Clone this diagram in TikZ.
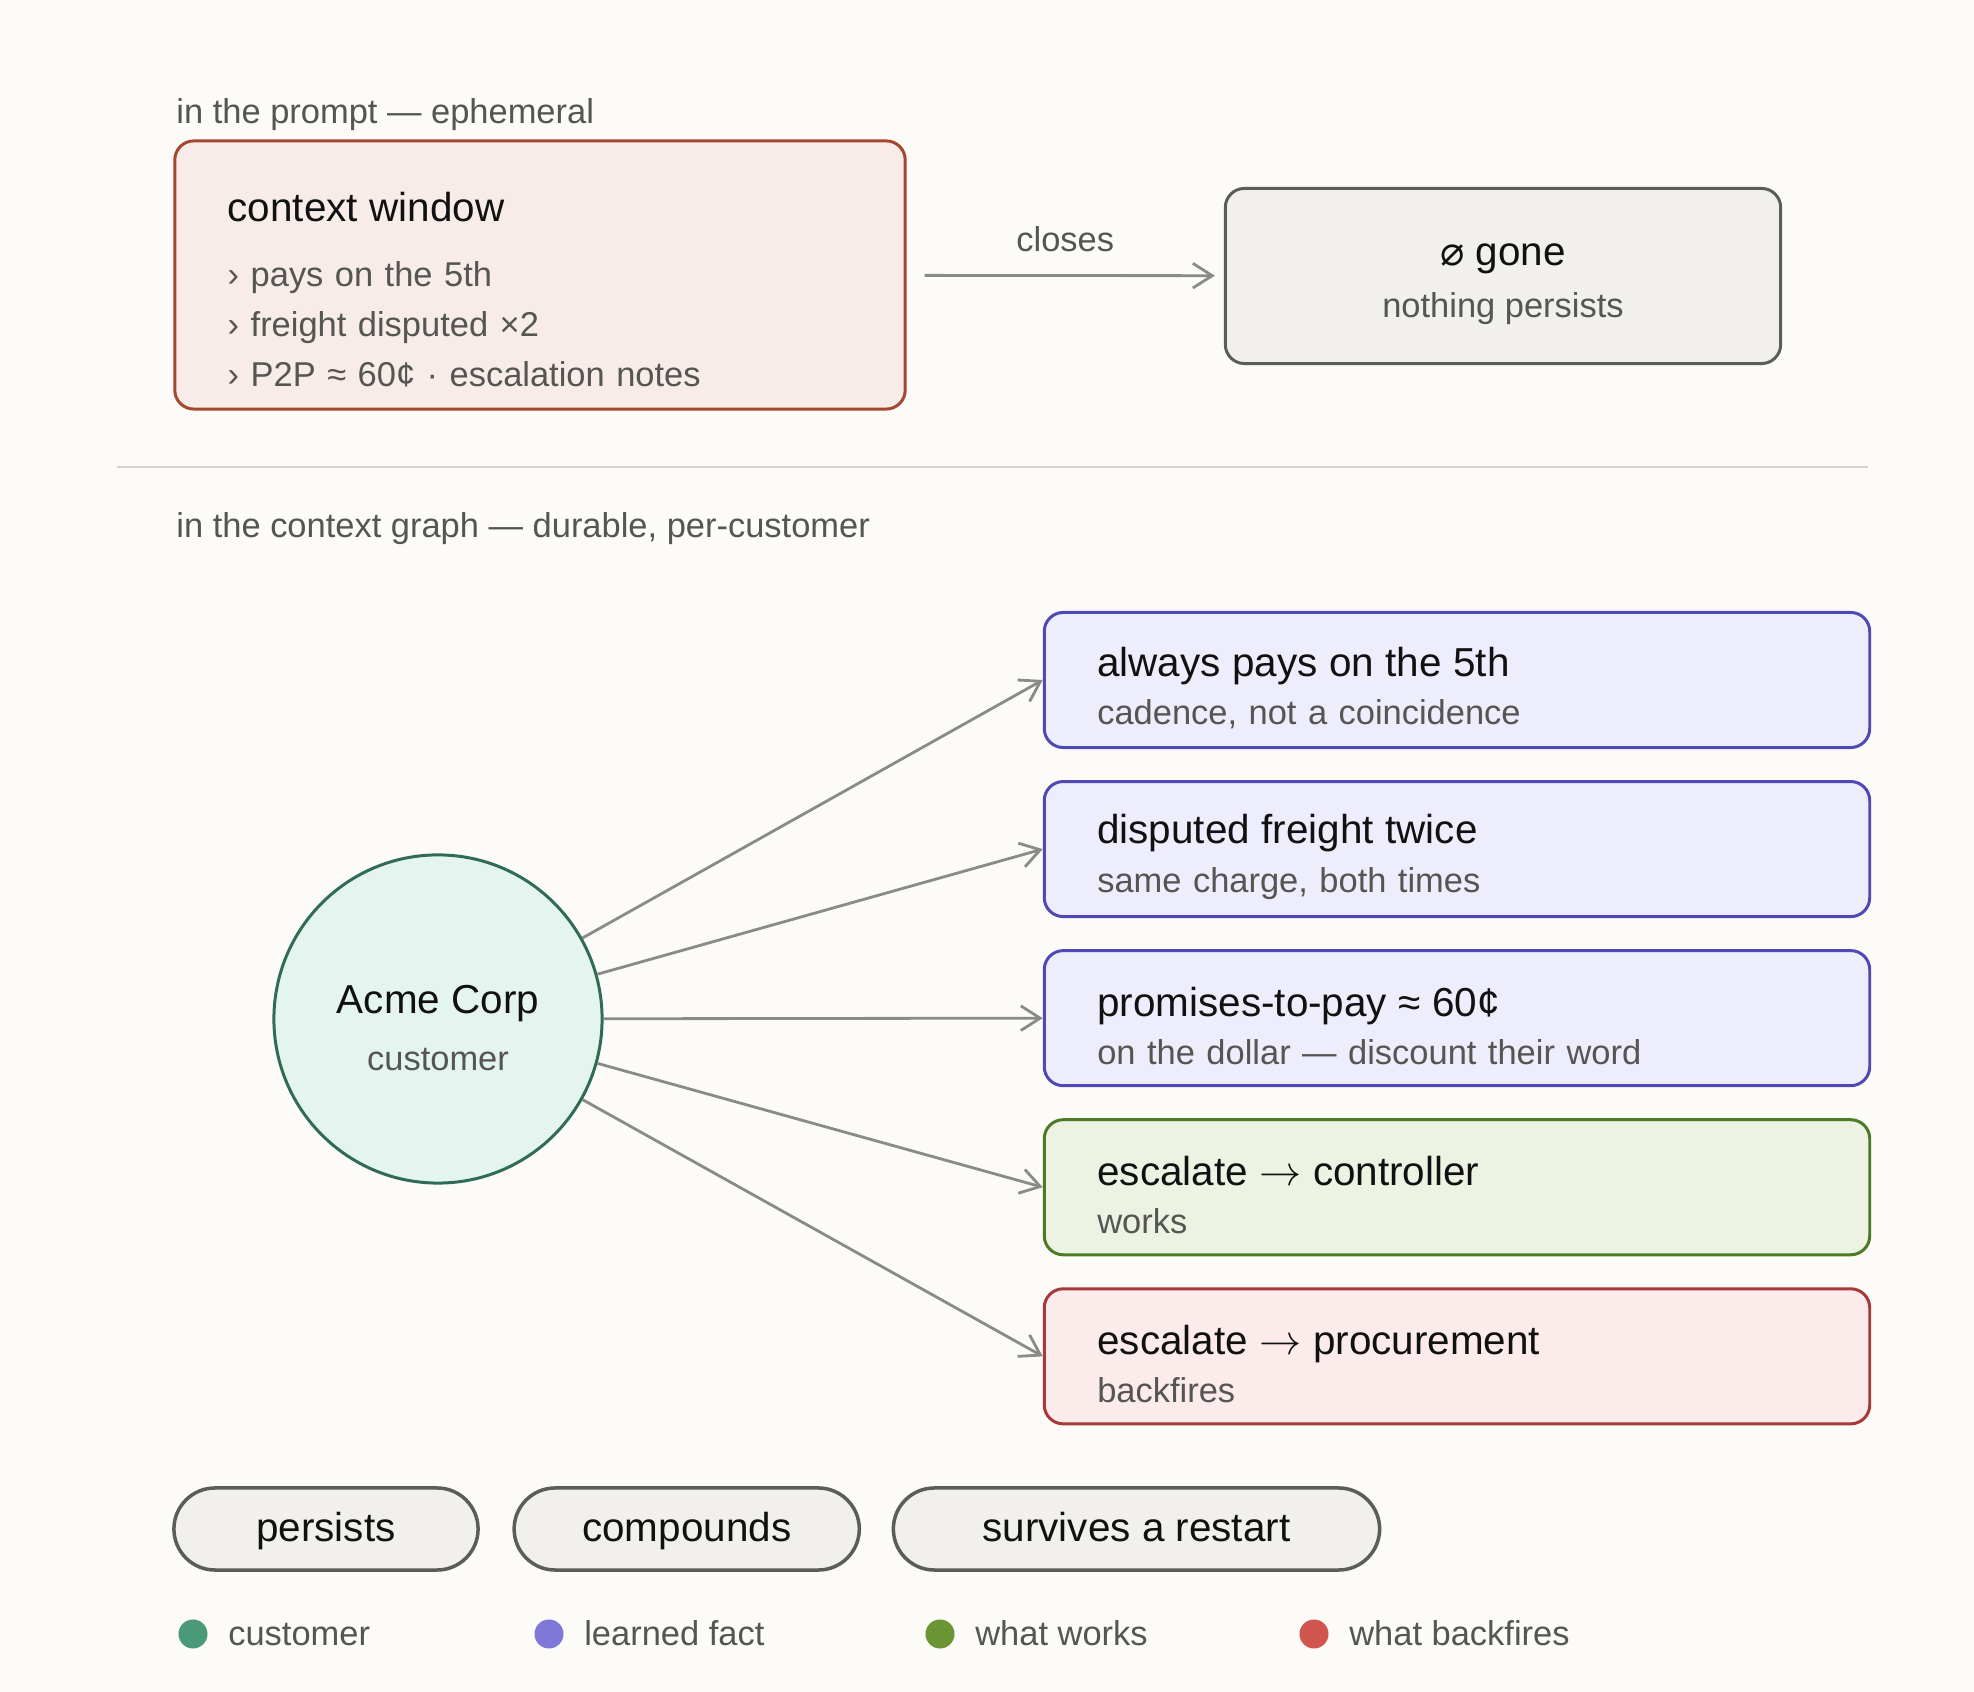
\documentclass[tikz,border=0pt]{standalone}
\usepackage{fontspec}
\setmainfont{Liberation Sans}
\newfontfamily\symfont{DejaVu Sans}
\usepackage{xcolor}
\usetikzlibrary{arrows.meta, positioning}

\definecolor{paper}{HTML}{FCFBF8}
\definecolor{inkgray}{HTML}{555553}
\definecolor{ink}{HTML}{111111}
\definecolor{cwline}{HTML}{A5472F}
\definecolor{cwfill}{HTML}{F7ECE8}
\definecolor{goneline}{HTML}{5C5C5A}
\definecolor{gonefill}{HTML}{F1F0EC}
\definecolor{factline}{HTML}{5048B5}
\definecolor{factfill}{HTML}{EEEDFC}
\definecolor{workline}{HTML}{4C7A26}
\definecolor{workfill}{HTML}{EDF3E2}
\definecolor{failline}{HTML}{A63A3A}
\definecolor{failfill}{HTML}{FBEBEA}
\definecolor{acmeline}{HTML}{2F6B57}
\definecolor{acmefill}{HTML}{E4F4EF}
\definecolor{edgegray}{HTML}{8A8A87}
\definecolor{rulegray}{HTML}{D5D4CF}
\definecolor{dotgreen}{HTML}{4A9A7A}
\definecolor{dotviolet}{HTML}{7F78D8}
\definecolor{dotolive}{HTML}{6A9535}
\definecolor{dotred}{HTML}{D0554F}

\newcommand{\boxhead}{\fontsize{11.5}{13.7}\selectfont\color{ink}}
\newcommand{\boxsub}{\fontsize{9.8}{13.7}\selectfont\color{inkgray}}
\newcommand{\lift}[1]{\rule{0pt}{#1}}

\begin{document}
\begin{tikzpicture}[x=0.01cm, y=-0.01cm, >={Straight Barb[length=5.5pt,width=7pt]}, line width=0.8pt]
    \tikzset{
        heading/.style={anchor=west, inner sep=0, font=\boxsub},
        box/.style={rectangle, rounded corners=0.19cm, line width=0.85pt},
        cwbox/.style={box, draw=cwline, fill=cwfill, minimum width=7.3cm, minimum height=2.68cm},
        gonebox/.style={box, draw=goneline, fill=gonefill, minimum width=5.55cm, minimum height=1.75cm, align=center, font=\boxsub},
        fact/.style={box, minimum width=8.25cm, minimum height=1.35cm, text width=7.19cm, align=left, font=\boxsub},
        pill/.style={rectangle, rounded corners=0.41cm, draw=goneline, fill=gonefill, line width=1pt, minimum height=0.82cm,
                     text height=0.9em, text depth=0.18em, font=\boxhead},
        dot/.style={circle, inner sep=0, minimum size=0.29cm},
        key/.style={anchor=west, inner sep=0, text height=0.85em, text depth=0.19em, font=\boxsub},
        line/.style={draw=edgegray, ->},
        rule/.style={draw=rulegray, line width=0.8pt}
    }

    \fill[paper] (0,0) rectangle (1974,1692);

    % ephemeral part
    \node[heading] (promptlbl) at (175,115) {in the prompt — ephemeral};
    \node[cwbox] (cw) at (540,275) {};
    \node[inner sep=0, text width=6.2cm, align=left, font=\fontsize{9.8}{14.2}\selectfont\color{inkgray},
          below right=0.51cm and 0.53cm of cw.north west] (cwlist)
        {{\boxhead context window}\\[4.3pt]
         › pays on the 5th\\
         › freight disputed ×2\\
         › P2P ≈ 60¢ · escalation notes};
    \node[gonebox] (gone) at (1503,276) {{\boxhead\lift{11pt}{\symfont ⌀} gone}\\[1.1pt] nothing persists};

    \path[line, shorten <=0.18cm, shorten >=0.09cm] (cw) -- node[above=0.22cm, inner sep=0, font=\boxsub] (closes) {closes} (gone);

    \coordinate (ruleL) at (117,467);
    \coordinate (ruleR) at (1868,467);
    \draw[rule] (ruleL) -- (ruleR);

    % durable part
    \node[heading] (graphlbl) at (175,529) {in the context graph — durable, per-customer};
    \node[circle, draw=acmeline, fill=acmefill, line width=0.85pt, minimum size=3.28cm, align=center, font=\boxsub] (acme) at (438,1019)
        {{\boxhead\lift{13pt}Acme Corp}\\[2.5pt] customer};

    \node[fact, draw=factline, fill=factfill] (pays) at (1457,680)
        {{\boxhead\lift{12.8pt}always pays on the 5th}\\ cadence, not a coincidence};
    \node[fact, draw=factline, fill=factfill, below=0.31cm of pays] (freight)
        {{\boxhead\lift{12.8pt}disputed freight twice}\\ same charge, both times};
    \node[fact, draw=factline, fill=factfill, below=0.31cm of freight] (ptp)
        {{\boxhead\lift{12.8pt}promises-to-pay ≈ 60¢}\\ on the dollar — discount their word};
    \node[fact, draw=workline, fill=workfill, below=0.31cm of ptp] (ctrl)
        {{\boxhead\lift{12.8pt}escalate $\rightarrow$ controller}\\ works};
    \node[fact, draw=failline, fill=failfill, below=0.31cm of ctrl] (proc)
        {{\boxhead\lift{12.8pt}escalate $\rightarrow$ procurement}\\ backfires};

    \path [line] (acme) -- (pays.west);
    \path [line] (acme) -- (freight.west);
    \path [line] (acme) -- (ptp.west);
    \path [line] (acme) -- (ctrl.west);
    \path [line] (acme) -- (proc.west);

    % properties
    \node[pill, minimum width=3.04cm] (persists) at (326,1529) {persists};
    \node[pill, minimum width=3.45cm, right=0.325cm of persists] (compounds) {compounds};
    \node[pill, minimum width=4.86cm, right=0.305cm of compounds] (restart) {survives a restart};

    % legend
    \node[dot, fill=dotgreen] (kcust) at (193,1634) {};
    \node[key, right=0.18cm of kcust] (kcustlbl) {customer};
    \node[dot, fill=dotviolet] (kfact) at (549,1634) {};
    \node[key, right=0.18cm of kfact] (kfactlbl) {learned fact};
    \node[dot, fill=dotolive] (kwork) at (940,1634) {};
    \node[key, right=0.18cm of kwork] (kworklbl) {what works};
    \node[dot, fill=dotred] (kfail) at (1314,1634) {};
    \node[key, right=0.18cm of kfail] (kfaillbl) {what backfires};
\end{tikzpicture}
\end{document}
